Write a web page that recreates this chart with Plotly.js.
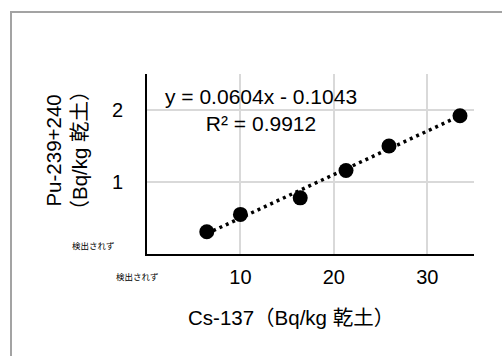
<!DOCTYPE html>
<html>
<head>
<meta charset="utf-8">
<script src="https://cdn.plot.ly/plotly-3.0.1.min.js"></script>
<style>
html,body{margin:0;padding:0;background:#fff;}
#wrap{position:relative;width:502px;height:356px;overflow:hidden;}
#chart{position:absolute;left:0;top:0;width:502px;height:356px;}
#frame{position:absolute;left:10px;top:11px;width:600px;height:600px;border-left:2px solid #a3a3a3;border-top:2px solid #a3a3a3;pointer-events:none;}
</style>
</head>
<body>
<div id="wrap"><div id="chart"></div><div id="frame"></div></div>
<script>
// Data
const cs137 = [6.4, 10.0, 16.4, 21.3, 25.9, 33.5];      // Cs-137 (Bq/kg dry soil)
const pu239240 = [0.31, 0.55, 0.78, 1.16, 1.50, 1.92]; // Pu-239+240 (Bq/kg dry soil)
const trendSlope = 0.0604;
const trendIntercept = -0.1043;
const rSquared = 0.9912;
const xTickVals = [10, 20, 30];
const xTickText = ['10', '20', '30'];
const yTickVals = [1, 2];
const yTickText = ['1', '2'];
const notDetected = '検出されず';
const xTitle = 'Cs-137（Bq/kg 乾土）';
const yTitle = 'Pu-239+240<br>（Bq/kg 乾土）';

const FONT = '"Liberation Sans", Arial, "Noto Sans CJK JP", sans-serif';

const trendX = [Math.min(...cs137), Math.max(...cs137)];
const trendY = trendX.map(v => trendSlope * v + trendIntercept);

const W = 502, H = 356;
const M = {l: 147, r: 28, t: 74, b: 102};
const pw = W - M.l - M.r, ph = H - M.t - M.b;
const px = x => (x - M.l) / pw;
const py = y => (H - M.b - y) / ph;

const traces = [
  {
    x: trendX, y: trendY, type: 'scatter', mode: 'lines',
    line: {color: '#000', width: 3.5, dash: '3px,4px'},
    hoverinfo: 'skip', showlegend: false
  },
  {
    x: cs137, y: pu239240, type: 'scatter', mode: 'markers',
    marker: {color: '#000', size: 15, symbol: 'circle'},
    showlegend: false
  }
];

const layout = {
  width: W, height: H,
  margin: M,
  paper_bgcolor: '#fff', plot_bgcolor: '#fff',
  font: {family: FONT, size: 20, color: '#000'},
  showlegend: false,
  xaxis: {
    range: [0, 35], tickvals: xTickVals, ticktext: xTickText,
    showgrid: true, gridcolor: '#d9d9d9', gridwidth: 2,
    showline: true, linecolor: '#000', linewidth: 2,
    zeroline: false, ticks: '', ticklabelstandoff: 4,
    tickfont: {family: FONT, size: 20, color: '#000'}
  },
  yaxis: {
    range: [0, 2.5], tickvals: yTickVals, ticktext: yTickText,
    showgrid: true, gridcolor: '#d9d9d9', gridwidth: 2,
    showline: true, linecolor: '#000', linewidth: 2,
    zeroline: false, ticks: '', ticklabelstandoff: 18,
    tickfont: {family: FONT, size: 20, color: '#000'}
  },
  annotations: [
    {xref: 'paper', yref: 'paper', x: px(260.5), y: py(109.5), xanchor: 'center', yanchor: 'middle',
     text: 'y = ' + trendSlope.toFixed(4) + 'x - ' + Math.abs(trendIntercept).toFixed(4) + '<br>R² = ' + rSquared.toFixed(4),
     showarrow: false, font: {family: FONT, size: 21, color: '#000'}, align: 'center'},
    {xref: 'paper', yref: 'paper', x: px(93), y: py(246), xanchor: 'center', yanchor: 'middle',
     text: notDetected, showarrow: false, font: {family: FONT, size: 8.5, color: '#000'}},
    {xref: 'paper', yref: 'paper', x: px(137), y: py(277), xanchor: 'center', yanchor: 'middle',
     text: notDetected, showarrow: false, font: {family: FONT, size: 8.5, color: '#000'}},
    {xref: 'paper', yref: 'paper', x: px(291), y: py(317), xanchor: 'center', yanchor: 'middle',
     text: xTitle, showarrow: false, font: {family: FONT, size: 20.5, color: '#000'}},
    {xref: 'paper', yref: 'paper', x: px(66.5), y: py(151), xanchor: 'center', yanchor: 'middle',
     text: yTitle, textangle: -90, showarrow: false, font: {family: FONT, size: 20.5, color: '#000'}}
  ]
};

Plotly.newPlot('chart', traces, layout, {displayModeBar: false, staticPlot: true});
</script>
</body>
</html>
